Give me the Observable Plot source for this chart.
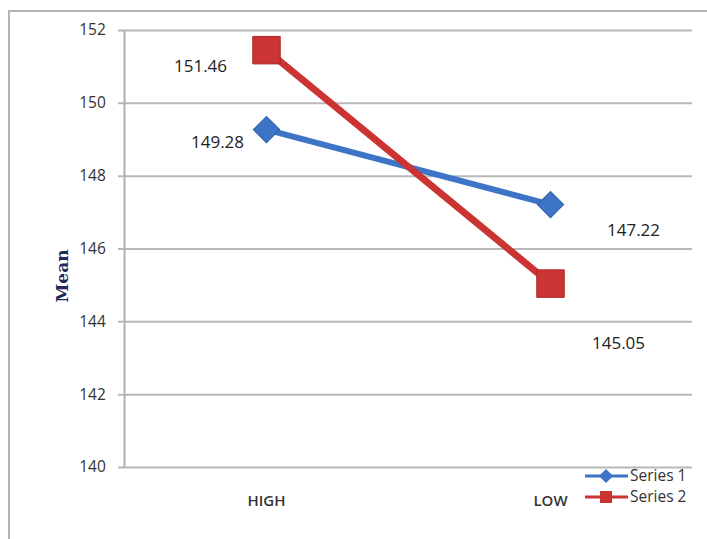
<!DOCTYPE html>
<html>
<head>
<meta charset="utf-8">
<script src="https://cdn.jsdelivr.net/npm/d3@7"></script>
<script src="https://cdn.jsdelivr.net/npm/@observablehq/plot@0.6"></script>
<style>
  html, body { margin: 0; padding: 0; background: #fff; }
  #wrap { position: relative; width: 707px; height: 539px; overflow: hidden; }
  #border { position: absolute; left: 8px; top: 10px; width: 720px; height: 560px;
            border: 2px solid #b4b4b4; box-sizing: border-box; pointer-events: none; }
  #chart svg { display: block; }
</style>
</head>
<body>
<div id="wrap">
  <div id="chart"></div>
  <div id="border"></div>
</div>
<script>
// Group means for two series across the HIGH / LOW conditions
const categories = ["HIGH", "LOW"];
const series1 = [149.28, 147.22];
const series2 = [151.46, 145.05];
const seriesNames = ["Series 1", "Series 2"];
const yTicks = [140, 142, 144, 146, 148, 150, 152];

const colors = { "Series 1": "#3d74c6", "Series 2": "#cc3333" };

const rows = [
  ...categories.map((c, i) => ({ cat: c, value: series1[i], series: seriesNames[0] })),
  ...categories.map((c, i) => ({ cat: c, value: series2[i], series: seriesNames[1] }))
];
const s1 = rows.filter(d => d.series === "Series 1");
const s2 = rows.filter(d => d.series === "Series 2");

// label offsets (pixels) for each data label
const labelOffsets = {
  "Series 1|HIGH": [-49, 13],
  "Series 2|HIGH": [-66, 16],
  "Series 1|LOW": [83, 26],
  "Series 2|LOW": [68, 60]
};
const labelMarks = rows.map(d => {
  const [dx, dy] = labelOffsets[d.series + "|" + d.cat];
  return Plot.text([d], {
    x: "cat", y: "value", text: r => r.value.toFixed(2),
    dx, dy, fontSize: 17, fill: "#222",
    fontFamily: "'Open Sans', 'Liberation Sans', sans-serif"
  });
});

// legend rows in the lower-right corner, placed in pixel space
const legendRows = seriesNames.map((name, i) => ({ name, i }));

const chart = Plot.plot({
  width: 707,
  height: 539,
  marginLeft: 124,
  marginRight: 15,
  marginTop: 30,
  marginBottom: 72,
  style: { fontFamily: "'Open Sans', 'Liberation Sans', sans-serif", background: "transparent" },
  x: { domain: categories, padding: 0.5, axis: null },
  y: { domain: [140, 152], ticks: yTicks, axis: null },
  marks: [
    // horizontal gridlines, extending slightly left of the axis as tick marks
    Plot.ruleY(yTicks, { stroke: "#b8b8b8", strokeWidth: 2, insetLeft: -6 }),
    // vertical axis line
    Plot.ruleX([categories[0]], { x: () => categories[0], stroke: "#b0b0b0", strokeWidth: 2, y1: 140, y2: 152, dx: -142 }),
    // y tick labels
    Plot.text(yTicks, { x: () => categories[0], y: d => d, text: d => String(d), dx: -174, textAnchor: "middle", fontSize: 15.5, fill: "#333" }),
    // x category labels
    Plot.text(categories, { x: d => d, y: () => 140, text: d => d, dy: 34, fontSize: 15, fill: "#333", fontWeight: 600, letterSpacing: "0.3px" }),
    // y axis title
    Plot.text(["Mean"], { x: () => categories[0], y: () => 146, text: d => d, dx: -204, dy: 27, rotate: -90,
      fontFamily: "'DejaVu Serif', 'Liberation Serif', serif", fontWeight: "bold", fontSize: 17, fill: "#1f2a5a" }),
    // Series 1 line + diamonds
    Plot.line(s1, { x: "cat", y: "value", stroke: colors["Series 1"], strokeWidth: 6 }),
    Plot.dot(s1, { x: "cat", y: "value", symbol: "square", r: 10.5, rotate: 45, fill: colors["Series 1"], stroke: "#2d5fa8", strokeWidth: 1 }),
    // Series 2 line + squares
    Plot.line(s2, { x: "cat", y: "value", stroke: colors["Series 2"], strokeWidth: 7 }),
    Plot.dot(s2, { x: "cat", y: "value", symbol: "square", r: 15.5, fill: colors["Series 2"], stroke: "#a82828", strokeWidth: 1 }),
    ...labelMarks
  ]
});

// legend: drawn in pixel coordinates inside the same svg
const svg = d3.select(chart);
const lg = svg.append("g")
  .attr("font-family", "'Open Sans', 'Liberation Sans', sans-serif")
  .attr("text-anchor", "start");
legendRows.forEach(({ name, i }) => {
  const y = 476 + i * 21;
  const c = colors[name];
  lg.append("line").attr("x1", 585).attr("x2", 628).attr("y1", y).attr("y2", y)
    .attr("stroke", c).attr("stroke-width", 3);
  if (i === 0) {
    lg.append("rect").attr("x", -5).attr("y", -5).attr("width", 10).attr("height", 10)
      .attr("fill", c).attr("transform", `translate(606,${y}) rotate(45)`);
  } else {
    lg.append("rect").attr("x", 600).attr("y", y - 6).attr("width", 12).attr("height", 12).attr("fill", c);
  }
  lg.append("text").attr("x", 630).attr("y", y).attr("dy", "0.35em")
    .attr("font-size", 15.5).attr("fill", "#333").text(name);
});

document.getElementById("chart").appendChild(chart);
</script>
</body>
</html>
